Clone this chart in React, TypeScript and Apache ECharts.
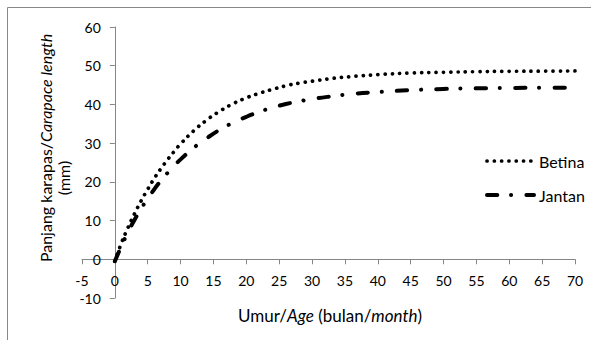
import React, { useEffect, useRef } from "react";
import * as echarts from "echarts";

const ages = [0, 1, 2, 3, 4, 5, 6, 7, 8, 9, 10, 12, 14, 16, 18, 20, 22, 24, 26, 28, 30, 33, 36, 40, 45, 50, 55, 60, 65, 70];
const betina = [-0.5, 4.2, 8.2, 11.8, 15.1, 18.1, 20.9, 23.4, 25.7, 27.8, 29.8, 33.2, 36.0, 38.3, 40.2, 41.7, 42.9, 43.9, 44.8, 45.5, 46.0, 46.7, 47.2, 47.7, 48.1, 48.3, 48.45, 48.55, 48.6, 48.65];
const jantan = [-0.5, 3.4, 7.0, 10.2, 13.1, 15.7, 18.1, 20.3, 22.3, 24.1, 25.8, 28.8, 31.3, 33.5, 35.3, 36.8, 38.1, 39.2, 40.1, 40.8, 41.4, 42.1, 42.7, 43.2, 43.7, 44.0, 44.15, 44.25, 44.3, 44.35];
const seriesNames = ["Betina", "Jantan"];

const FONT = "Lato";
const AXIS = "#868686";

const GRID_LEFT = 82;
const GRID_RIGHT = 16;
const GRID_TOP = 27;
const GRID_BOTTOM = 42;
const W = 591;
const H = 340;
const X_MIN = -5, X_MAX = 70, Y_MIN = -10, Y_MAX = 60;

const betinaLine = { color: "#000", width: 3.7, type: [0.1, 7.2], cap: "round" };
const jantanLine = { color: "#000", width: 4, type: [10.3, 13.7, 0.1, 15.3], cap: "round" };

export default function App() {
  const ref = useRef<HTMLDivElement>(null);
  useEffect(() => {
    if (!ref.current) return;
    const chart = echarts.init(ref.current, null, { renderer: "svg" });
    const label = { fontFamily: FONT, fontSize: 14, color: "#000" };
    const tokX = { fontFamily: FONT, fontSize: 17, color: "#000", align: "left" };
    const tokY = { fontFamily: FONT, fontSize: 16, color: "#000", align: "left" };
    const gw = W - GRID_LEFT - GRID_RIGHT;
    const gh = H - GRID_TOP - GRID_BOTTOM;
    const xOffset = -((0 - X_MIN) / (X_MAX - X_MIN)) * gw;
    const yOffset = -((0 - Y_MIN) / (Y_MAX - Y_MIN)) * gh;
    chart.setOption({
      animation: false,
      grid: { left: GRID_LEFT, right: GRID_RIGHT, top: GRID_TOP, bottom: GRID_BOTTOM, outerBoundsMode: "none" },
      xAxis: {
        type: "value",
        min: X_MIN,
        max: X_MAX,
        interval: 5,
        offset: yOffset,
        axisLine: { show: true, onZero: false, lineStyle: { color: AXIS, width: 1 } },
        axisTick: { show: true, length: 5, lineStyle: { color: AXIS } },
        axisLabel: { ...label, margin: 14, showMinLabel: true, showMaxLabel: true },
        splitLine: { show: false },
      },
      yAxis: {
        type: "value",
        min: Y_MIN,
        max: Y_MAX,
        interval: 10,
        offset: xOffset,
        axisLine: { show: true, onZero: false, lineStyle: { color: AXIS, width: 1 } },
        axisTick: { show: true, length: 5, lineStyle: { color: AXIS } },
        axisLabel: { ...label, margin: 14, showMinLabel: true, showMaxLabel: true },
        splitLine: { show: false },
      },
      legend: {
        orient: "vertical",
        left: 485,
        top: 153,
        padding: 0,
        itemWidth: 47,
        itemHeight: 14,
        itemGap: 18,
        itemStyle: { opacity: 0 },
        textStyle: { fontFamily: FONT, fontSize: 16, color: "#000", lineHeight: 14 },
        data: [
          { name: seriesNames[0], lineStyle: { ...betinaLine } },
          { name: seriesNames[1], lineStyle: { ...jantanLine } },
        ],
      },
      series: [
        {
          name: seriesNames[0],
          type: "line",
          smooth: true,
          showSymbol: false,
          symbol: "none",
          data: ages.map((t, i) => [t, betina[i]]),
          lineStyle: { ...betinaLine },
          itemStyle: { color: "#000" },
        },
        {
          name: seriesNames[1],
          type: "line",
          smooth: true,
          showSymbol: false,
          symbol: "none",
          data: ages.map((t, i) => [t, jantan[i]]),
          lineStyle: { ...jantanLine },
          itemStyle: { color: "#000" },
        },
      ],
      graphic: [
        {
          type: "rect",
          silent: true,
          shape: { x: 7.5, y: 7.5, width: 620, height: 400 },
          style: { fill: "none", stroke: "#888888", lineWidth: 1 },
        },
        {
          type: "text",
          x: 330,
          y: 315,
          style: {
            text: "{n|Umur/}{i|Age}{n| (bulan/}{i|month}{n|)}",
            rich: { n: { ...tokX }, i: { ...tokX, fontStyle: "italic" } },
            align: "center",
            verticalAlign: "middle",
          },
        },
        {
          type: "text",
          x: 45,
          y: 148,
          rotation: Math.PI / 2,
          style: {
            text: "{n|Panjang karapas/}{i|Carapace length}",
            rich: { n: { ...tokY }, i: { ...tokY, fontStyle: "italic" } },
            align: "center",
            verticalAlign: "middle",
          },
        },
        {
          type: "text",
          x: 63,
          y: 178,
          rotation: Math.PI / 2,
          style: {
            text: "(mm)",
            fontFamily: FONT,
            fontSize: 16,
            fill: "#000",
            align: "center",
            verticalAlign: "middle",
          },
        },
      ],
    });
    return () => chart.dispose();
  }, []);
  return (
    <div
      ref={ref}
      style={{ position: "fixed", left: 0, top: 0, width: W, height: H, background: "#fff" }}
    />
  );
}
